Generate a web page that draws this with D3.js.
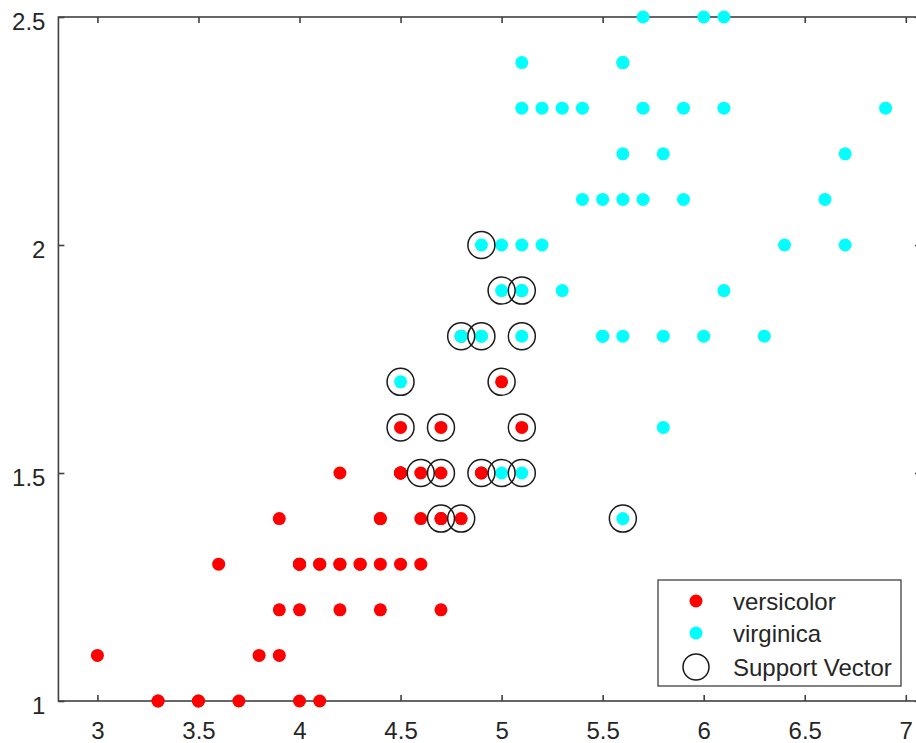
<!DOCTYPE html>
<html><head><meta charset="utf-8">
<script src="https://d3js.org/d3.v7.min.js"></script>
<style>html,body{margin:0;padding:0;background:#fff;overflow:hidden}</style>
</head><body>
<script>
const versicolorX = [4.7,4.5,4.9,4.0,4.6,4.5,4.7,3.3,4.6,3.9,3.5,4.2,4.0,4.7,3.6,4.4,4.5,4.1,4.5,3.9,4.8,4.0,4.9,4.7,4.3,4.4,4.8,5.0,4.5,3.5,3.8,3.7,3.9,5.1,4.5,4.5,4.7,4.4,4.1,4.0,4.4,4.6,4.0,3.3,4.2,4.2,4.2,4.3,3.0,4.1];
const versicolorY = [1.4,1.5,1.5,1.3,1.5,1.3,1.6,1.0,1.3,1.4,1.0,1.5,1.0,1.4,1.3,1.4,1.5,1.0,1.5,1.1,1.8,1.3,1.5,1.2,1.3,1.4,1.4,1.7,1.5,1.0,1.1,1.0,1.2,1.6,1.5,1.6,1.5,1.3,1.3,1.3,1.2,1.4,1.2,1.0,1.3,1.2,1.3,1.3,1.1,1.3];
const virginicaX = [6.0,5.1,5.9,5.6,5.8,6.6,4.5,6.3,5.8,6.1,5.1,5.3,5.5,5.0,5.1,5.3,5.5,6.7,6.9,5.0,5.7,4.9,6.7,4.9,5.7,6.0,4.8,4.9,5.6,5.8,6.1,6.4,5.6,5.1,5.6,6.1,5.6,5.5,4.8,5.4,5.6,5.1,5.1,5.9,5.7,5.2,5.0,5.2,5.4,5.1];
const virginicaY = [2.5,1.9,2.1,1.8,2.2,2.1,1.7,1.8,1.8,2.5,2.0,1.9,2.1,2.0,2.4,2.3,1.8,2.2,2.3,1.5,2.3,2.0,2.0,1.8,2.1,1.8,1.8,1.8,2.1,1.6,1.9,2.0,2.2,1.5,1.4,2.3,2.4,1.8,1.8,2.1,2.4,2.3,1.9,2.3,2.5,2.3,1.9,2.0,2.3,1.8];
const supportX = [4.9,5.0,5.1,4.8,4.9,5.1,4.5,5.0,4.5,4.7,5.1,4.6,4.7,4.9,5.0,5.1,4.7,4.8,5.6];
const supportY = [2.0,1.9,1.9,1.8,1.8,1.8,1.7,1.7,1.6,1.6,1.6,1.5,1.5,1.5,1.5,1.5,1.4,1.4,1.4];
const xTicks = [3,3.5,4,4.5,5,5.5,6,6.5,7];
const yTicks = [1,1.5,2,2.5];
const xTickLabels = ["3","3.5","4","4.5","5","5.5","6","6.5","7"];
const yTickLabels = ["1","1.5","2","2.5"];
const legendLabels = ["versicolor","virginica","Support Vector"];

(function(){
const W = 916, H = 743;
const svg = d3.select("body").append("svg").attr("width", W).attr("height", H)
  .style("font-family", "'Liberation Sans', Arial, sans-serif");

const x = d3.scaleLinear().domain([2.8, 7.1]).range([57, 926]);
const y = d3.scaleLinear().domain([1, 2.5]).range([701, 17]);
const axisColor = "#404040", textColor = "#262626";
const fs = 24;

const x0 = x(2.807), x1 = x(7.075);
svg.append("rect").attr("x", x0).attr("y", y(2.5)).attr("width", x1 - x0).attr("height", y(1) - y(2.5))
  .attr("fill", "none").attr("stroke", axisColor).attr("stroke-width", 1.6);

const gBottom = svg.append("g").attr("transform", `translate(0,${y(1)})`)
  .call(d3.axisBottom(x).tickValues(xTicks).tickSizeInner(-6).tickSizeOuter(0).tickFormat((d,i)=>xTickLabels[i]));
const gTop = svg.append("g").attr("transform", `translate(0,${y(2.5)})`)
  .call(d3.axisTop(x).tickValues(xTicks).tickSizeInner(-6).tickSizeOuter(0).tickFormat(""));
const gLeft = svg.append("g").attr("transform", `translate(${x0},0)`)
  .call(d3.axisLeft(y).tickValues(yTicks).tickSizeInner(-6).tickSizeOuter(0).tickFormat((d,i)=>yTickLabels[i]));
const gRight = svg.append("g").attr("transform", `translate(${x1},0)`)
  .call(d3.axisRight(y).tickValues(yTicks).tickSizeInner(-6).tickSizeOuter(0).tickFormat(""));
[gBottom, gTop, gLeft, gRight].forEach(g => {
  g.select(".domain").remove();
  g.selectAll("line").attr("stroke", axisColor).attr("stroke-width", 1.6);
  g.selectAll("text").attr("fill", textColor).style("font-size", fs + "px").style("font-family", "'Liberation Sans', Arial, sans-serif");
});
gBottom.selectAll("text").attr("y", 38).attr("dy", null);
gLeft.selectAll("text").attr("x", -13).attr("dy", "0.5em");

const plot = svg.append("g");
const r = 6.5;
plot.selectAll(".ve").data(versicolorX.map((v,i)=>[v, versicolorY[i]])).enter().append("circle")
  .attr("cx", d=>x(d[0])).attr("cy", d=>y(d[1])).attr("r", r).attr("fill", "#ff0000");
plot.selectAll(".vi").data(virginicaX.map((v,i)=>[v, virginicaY[i]])).enter().append("circle")
  .attr("cx", d=>x(d[0])).attr("cy", d=>y(d[1])).attr("r", r).attr("fill", "#00ffff");
plot.selectAll(".sv").data(supportX.map((v,i)=>[v, supportY[i]])).enter().append("circle")
  .attr("cx", d=>x(d[0])).attr("cy", d=>y(d[1])).attr("r", 13.5).attr("fill", "none")
  .attr("stroke", "#1a1a1a").attr("stroke-width", 1.5);

const lg = svg.append("g");
lg.append("rect").attr("x", 658).attr("y", 580).attr("width", 243).attr("height", 106)
  .attr("fill", "#fff").attr("stroke", axisColor).attr("stroke-width", 1.3);
const ly = [601, 633, 667];
lg.append("circle").attr("cx", 696).attr("cy", ly[0]).attr("r", r).attr("fill", "#ff0000");
lg.append("circle").attr("cx", 696).attr("cy", ly[1]).attr("r", r).attr("fill", "#00ffff");
lg.append("circle").attr("cx", 696).attr("cy", ly[2]).attr("r", 13).attr("fill", "none").attr("stroke", "#1a1a1a").attr("stroke-width", 1.5);
legendLabels.forEach((t,i) => {
  lg.append("text").attr("x", 733).attr("y", ly[i]).attr("dy", "0.36em").attr("fill", textColor)
    .style("font-size", "24px").text(t);
});
})();
</script>
</body></html>
